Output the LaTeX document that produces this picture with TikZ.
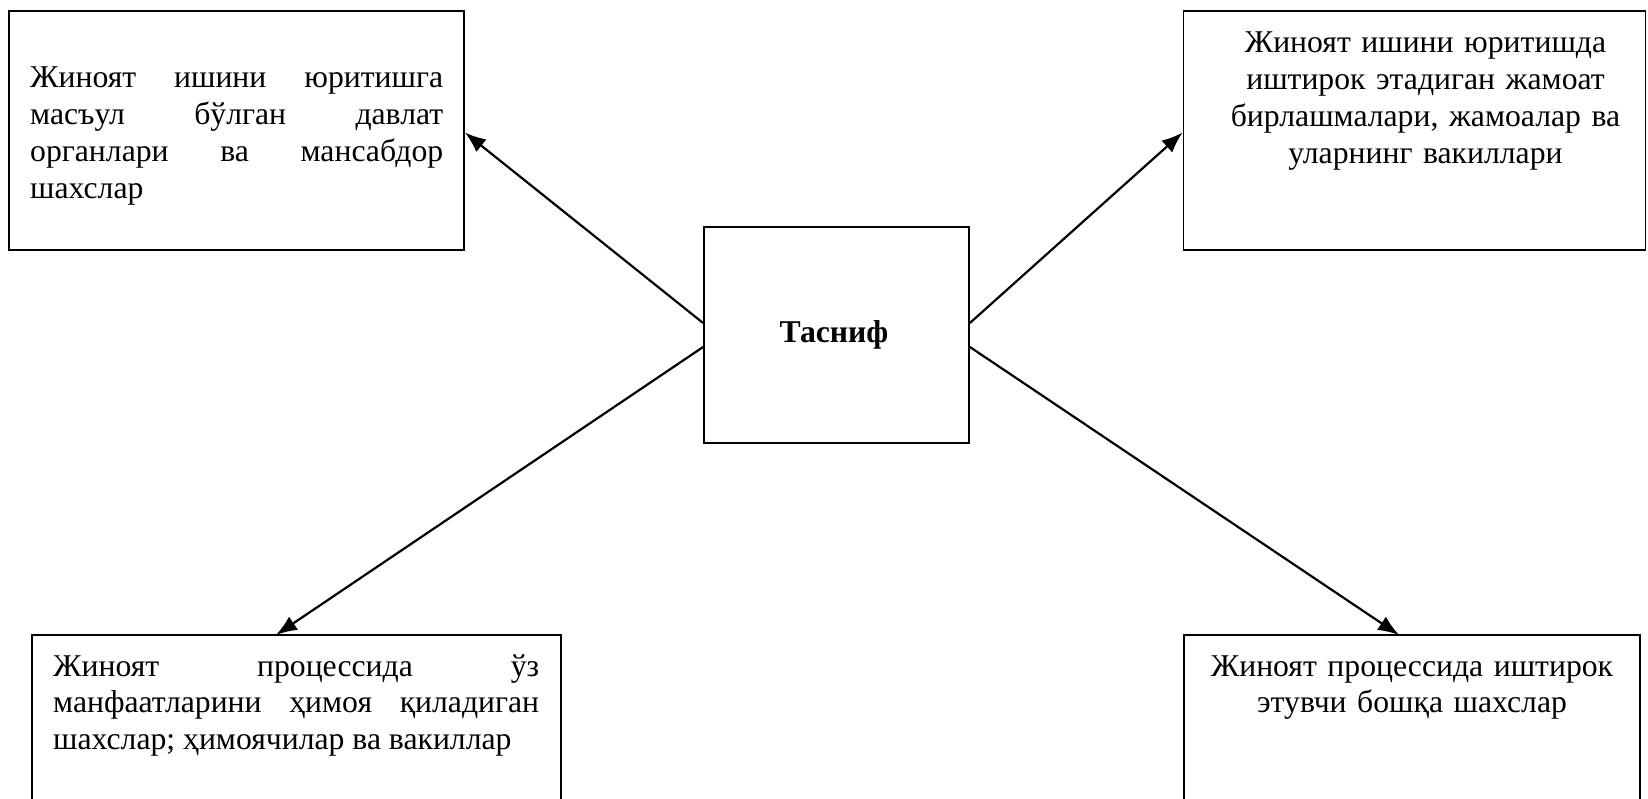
\documentclass[tikz,border=0pt]{standalone}
\usepackage{fontspec}
\setmainfont{Liberation Serif}
\usetikzlibrary{arrows.meta}
\begin{document}
\begin{tikzpicture}[x=1pt,y=-1pt,
  box/.style={draw, line width=1.8pt, inner sep=0pt},
  txt/.style={inner sep=0pt, font=\fontsize{31.7}{36.7}\selectfont},
  jtxt/.style={txt, align=justify},
  ctxt/.style={txt, align=center},
  conn/.style={line width=2.2pt, -{Latex[length=21pt,width=16pt]}}]
\useasboundingbox (0,0) rectangle (1648,799);
\clip (0,0) rectangle (1648,799);
% boxes
\node[box, minimum width=455pt, minimum height=239pt] (tl) at (236.5,130.5) {};
\node[box, minimum width=462pt, minimum height=239pt] (tr) at (1414.5,130.5) {};
\node[box, minimum width=265pt, minimum height=216pt] (c) at (836.5,335) {};
\node[box, minimum width=529pt, minimum height=230pt] (bl) at (296.5,750) {};
\node[box, minimum width=456pt, minimum height=230pt] (br) at (1412,750) {};
% texts
\node[jtxt, text width=413pt, anchor=base west] (tlt) at (30,88)
  {Жиноят ишини юритишга\linebreak масъул бўлган давлат\linebreak органлари ва мансабдор\linebreak шахслар};
\node[ctxt, text width=440pt, anchor=base] (trt) at (1425.5,53)
  {Жиноят ишини юритишда\\ иштирок этадиган жамоат\\ бирлашмалари, жамоалар ва\\ уларнинг вакиллари};
\node[jtxt, text width=486pt, anchor=base west] (blt) at (53,676)
  {Жиноят процессида ўз\linebreak манфаатларини ҳимоя қиладиган\linebreak шахслар; ҳимоячилар ва вакиллар};
\node[ctxt, text width=440pt, anchor=base] (brt) at (1412,676)
  {Жиноят процессида иштирок\\ этувчи бошқа шахслар};
\node[txt, font=\fontsize{31.7}{36.7}\selectfont\bfseries] (ct) at (834,335) {Тасниф};
% anchor points on the central box (yshift is in canvas units: positive = up)
\coordinate (c1) at ([yshift=12pt]c.west);
\coordinate (c2) at ([yshift=-12pt]c.west);
\coordinate (c3) at ([yshift=12pt]c.east);
\coordinate (c4) at ([yshift=-12pt]c.east);
\coordinate (tlp) at ([yshift=-2pt]tl.east);
\coordinate (trp) at ([yshift=-2pt]tr.west);
\coordinate (blp) at (276,635);
\coordinate (brp) at (1399,635);
\draw[conn] (c1) -- (tlp);
\draw[conn] (c3) -- (trp);
\draw[conn] (c2) -- (blp);
\draw[conn] (c4) -- (brp);
\end{tikzpicture}
\end{document}
